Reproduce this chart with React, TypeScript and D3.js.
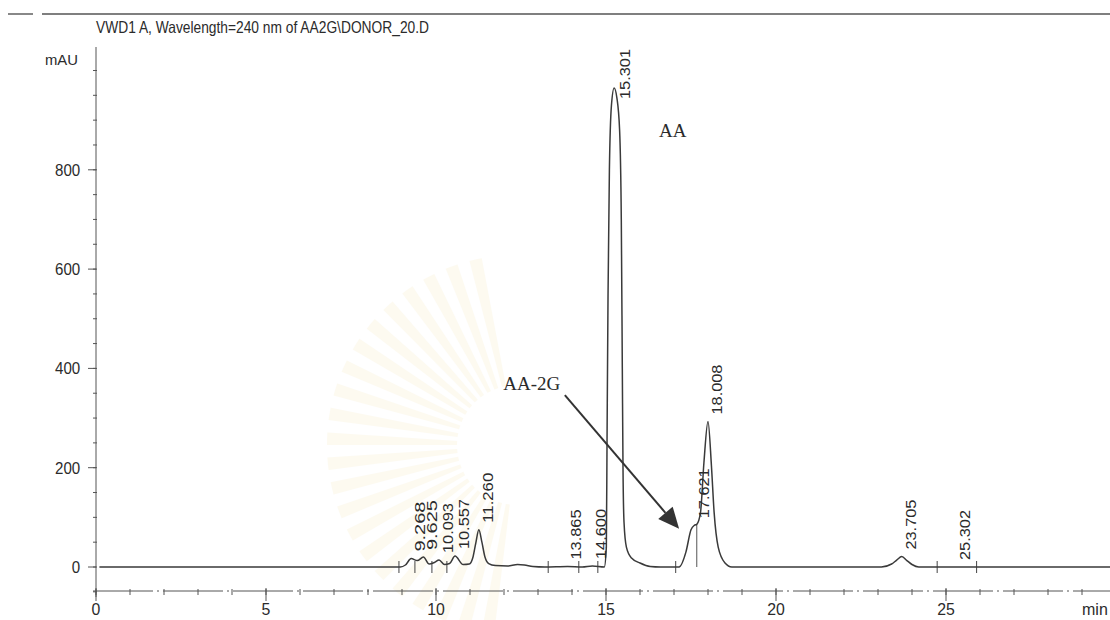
import React from 'react';
import * as d3 from 'd3';

// ---- data ----
const chartTitle = 'VWD1 A, Wavelength=240 nm of AA2G\\DONOR_20.D';
const yUnitLabel = 'mAU';
const xUnitLabel = 'min';

// detector trace (retention time in min, absorbance in mAU)
const traceTime = [
  0.1, 8.9, 8.95, 9.1, 9.27, 9.45, 9.63, 9.8, 9.95, 10.09, 10.25, 10.4, 10.56, 10.8, 10.98,
  11.08, 11.17, 11.26, 11.35, 11.44, 11.55, 11.75, 12.1, 12.4, 12.6, 12.85, 13.2, 13.87, 14.3,
  14.6, 14.95, 15.01, 15.03, 15.06, 15.1, 15.16, 15.24, 15.32, 15.4, 15.45, 15.48, 15.5, 15.53,
  15.6, 15.75, 16.0, 16.3, 16.6, 17.15, 17.35, 17.5, 17.6, 17.67, 17.78, 17.88, 18.0, 18.1,
  18.18, 18.3, 18.5, 18.7, 23.1, 23.4, 23.55, 23.7, 23.85, 24.0, 24.2, 29.9,
];
const traceMAU = [
  0, 0, 0, 4, 17, 13, 20, 6, 9, 14, 5, 7, 22, 5, 6,
  18, 48, 75, 50, 20, 7, 3, 2, 5, 4, 1, 0, 1, 0,
  2, 0, 40, 250, 550, 800, 930, 965, 945, 880, 700, 400, 200, 90,
  40, 18, 8, 1, 0, 0, 30, 75, 84, 86, 110, 210, 293, 205,
  110, 40, 8, 0, 0, 6, 14, 21, 13, 5, 0, 0,
];

// labelled peaks
const peakTimes = [9.268, 9.625, 10.093, 10.557, 11.26, 13.865, 14.6, 15.301, 17.621, 18.008, 23.705, 25.302];
const peakHeights = [17, 20, 14, 22, 75, 1, 2, 965, 84, 293, 21, 0];

// integration start/stop marks on the baseline
const integrationMarks = [8.91, 9.38, 9.88, 10.32, 13.3, 14.2, 14.76, 17.05, 24.74, 25.9];
// peak drop line (time, mAU)
const dropLineTime = [17.67];
const dropLineMAU = [86];

// axis ticks
const xMajorTicks = [0, 5, 10, 15, 20, 25];
const xMinorTicks = d3.range(0, 31, 1);
const yMajorTicks = [0, 200, 400, 600, 800];
const yMinorTicks = d3.range(-50, 1001, 50);

// annotations
const annAAText = 'AA';
const annAAPos = [16.56, 866];
const annAA2GText = 'AA-2G';
const annAA2GPos = [11.98, 356];
const arrowFrom = [13.79, 346];
const arrowTo = [17.15, 77];

// ---- layout ----
const W = 1110;
const H = 620;
const x = d3.scaleLinear().domain([0, 30]).range([96, 1116]);
const y = d3.scaleLinear().domain([0, 1000]).range([567, 70.5]);
const plotTop = 47;
const xAxisY = 591;
const ink = '#2b2b2b';
const sans = 'Arial, "Liberation Sans", Helvetica, sans-serif';
const serif = '"Times New Roman", "Liberation Serif", serif';

function Watermark() {
  const cx = 517;
  const cy = 445;
  const n = 22;
  const arc = d3.arc<any>();
  const wedges = d3.range(n).map((i) => {
    const a0 = -Math.PI / 2 - 1.45 + (i * 2.9) / n;
    return arc({ innerRadius: 60, outerRadius: 190, startAngle: a0, endAngle: a0 + 2.9 / n / 2 }) as string;
  });
  return (
    <g transform={`translate(${cx},${cy})`} opacity={0.12}>
      {wedges.map((d, i) => (
        <path key={i} d={d} fill="#f0d98a" />
      ))}
    </g>
  );
}

export default function App() {
  const pts: [number, number][] = traceTime.map((t, i) => [t, traceMAU[i]]);
  const line = d3
    .line<[number, number]>()
    .x((d) => x(d[0]))
    .y((d) => y(d[1]))
    .curve(d3.curveMonotoneX);

  const fmt = d3.format('.3f');
  const labelLen = 50;

  // arrow geometry
  const ax0 = x(arrowFrom[0]);
  const ay0 = y(arrowFrom[1]);
  const ax1 = x(arrowTo[0]);
  const ay1 = y(arrowTo[1]);
  const ang = Math.atan2(ay1 - ay0, ax1 - ax0);
  const headLen = 21;
  const headHalf = 9.5;
  const bx = ax1 - headLen * Math.cos(ang);
  const by = ay1 - headLen * Math.sin(ang);
  const head = [
    [ax1, ay1],
    [bx + headHalf * Math.sin(ang), by - headHalf * Math.cos(ang)],
    [bx - headHalf * Math.sin(ang), by + headHalf * Math.cos(ang)],
  ]
    .map((p) => p.join(','))
    .join(' ');

  return (
    <svg
      width={W}
      height={H}
      viewBox={`0 0 ${W} ${H}`}
      style={{ position: 'absolute', left: 0, top: 0, background: '#fff' }}
    >
      <rect x={0} y={0} width={W} height={H} fill="#fff" />
      <Watermark />

      {/* page frame line */}
      <line x1={8} x2={33} y1={14} y2={14} stroke="#555" strokeWidth={1.4} />
      <line x1={42} x2={W} y1={14} y2={14} stroke="#555" strokeWidth={1.4} />

      {/* title */}
      <text x={96} y={33} fontFamily={sans} fontSize={16.5} fill={ink} textLength={333} lengthAdjust="spacingAndGlyphs">
        {chartTitle}
      </text>
      <text x={45} y={65} fontFamily={sans} fontSize={15} fill={ink} textLength={33} lengthAdjust="spacingAndGlyphs">
        {yUnitLabel}
      </text>

      {/* y axis */}
      <line x1={x(0)} x2={x(0)} y1={plotTop} y2={xAxisY + 6} stroke="#555" strokeWidth={1} />
      {yMinorTicks.map((v) => (
        <line key={'ym' + v} x1={x(0) - 3} x2={x(0) + 1} y1={y(v)} y2={y(v)} stroke="#555" strokeWidth={1} />
      ))}
      {yMajorTicks.map((v) => {
        const s = String(v);
        return (
          <g key={'yM' + v}>
            <line x1={x(0) - 8} x2={x(0)} y1={y(v)} y2={y(v)} stroke="#555" strokeWidth={1} />
            <text
              x={x(0) - 41 + (3 - s.length) * 8.4}
              y={y(v) + 6}
              fontFamily={sans}
              fontSize={17}
              fill={ink}
              textLength={s.length * 8.4}
              lengthAdjust="spacingAndGlyphs"
            >
              {s}
            </text>
          </g>
        );
      })}

      {/* x axis */}
      <line x1={x(0) - 3} x2={W} y1={xAxisY} y2={xAxisY} stroke="#555" strokeWidth={1} strokeDasharray="60 4 2 4" />
      {xMinorTicks.map((t) => (
        <line key={'xm' + t} x1={x(t)} x2={x(t)} y1={xAxisY - 2} y2={xAxisY + 4} stroke="#555" strokeWidth={1} />
      ))}
      {xMajorTicks.map((t) => {
        const s = String(t);
        return (
          <g key={'xM' + t}>
            <line x1={x(t)} x2={x(t)} y1={xAxisY - 3} y2={xAxisY + 10} stroke="#555" strokeWidth={1} />
            <text
              x={x(t) - (s.length * 8.8) / 2}
              y={615}
              fontFamily={sans}
              fontSize={16}
              fill={ink}
              textLength={s.length * 8.8}
              lengthAdjust="spacingAndGlyphs"
            >
              {s}
            </text>
          </g>
        );
      })}
      <text x={1082} y={615} fontFamily={sans} fontSize={16} fill={ink}>
        {xUnitLabel}
      </text>

      {/* integration marks */}
      {integrationMarks.map((t) => (
        <line key={'im' + t} x1={x(t)} x2={x(t)} y1={y(0) - 6} y2={y(0) + 6} stroke="#444" strokeWidth={1} />
      ))}
      {dropLineTime.map((t, i) => (
        <line key={'dl' + t} x1={x(t)} x2={x(t)} y1={y(0)} y2={y(dropLineMAU[i])} stroke="#555" strokeWidth={1} />
      ))}

      {/* trace */}
      <path d={line(pts) || ''} fill="none" stroke="#3a3a3a" strokeWidth={1.5} strokeLinejoin="round" />

      {/* peak labels */}
      {peakTimes.map((t, i) => {
        const px = x(t) + 14;
        const py = Math.max(y(peakHeights[i]) - 7, plotTop + labelLen + 2);
        return (
          <text
            key={'pl' + t}
            transform={`translate(${px},${py}) rotate(-90)`}
            fontFamily={sans}
            fontSize={14.5}
            fill={ink}
            textLength={labelLen}
            lengthAdjust="spacingAndGlyphs"
          >
            {fmt(t)}
          </text>
        );
      })}

      {/* annotations */}
      <text x={x(annAAPos[0])} y={y(annAAPos[1])} fontFamily={serif} fontSize={19} fill={ink}>
        {annAAText}
      </text>
      <text x={x(annAA2GPos[0])} y={y(annAA2GPos[1])} fontFamily={serif} fontSize={19} fill={ink}>
        {annAA2GText}
      </text>
      <line x1={ax0} y1={ay0} x2={bx} y2={by} stroke="#333" strokeWidth={2} />
      <polygon points={head} fill="#333" />
    </svg>
  );
}
